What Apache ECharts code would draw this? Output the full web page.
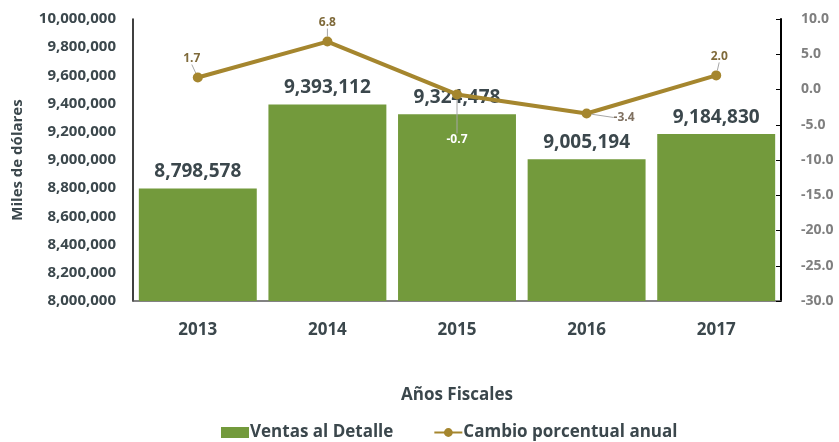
<!DOCTYPE html>
<html><head><meta charset="utf-8">
<script src="https://cdn.jsdelivr.net/npm/echarts@6/dist/echarts.min.js"></script>
<style>html,body{margin:0;padding:0;background:#fff}#c{width:839px;height:442px}</style>
</head><body><div id="c"></div>
<script>
const categories = ['2013','2014','2015','2016','2017'];
const ventas = [8798578, 9393112, 9324478, 9005194, 9184830];
const cambio = [1.7, 6.8, -0.7, -3.4, 2.0];
const leftTicks = {min: 8000000, max: 10000000, interval: 200000};
const rightTicks = {min: -30, max: 10, interval: 5};

const FONT = 'Open Sans';
const textDark = '#3b474c';
const lineColor = '#a5862e';
const barColor = '#739a3c';
const labelMoves = [
  {dx: -6, dy: 0}, {dx: 0, dy: 0}, {dx: 0, dy: 0}, {dx: 0, dy: 4}, {dx: 3, dy: 0}
];
const labelPos = ['top','top','bottom','right','top'];
const labelDist = [8, 8, 34, 22, 8];
const labelColors = ['#7f6a3a','#7f6a3a','#ffffff','#7f7060','#7f6a3a'];

const chart = echarts.init(document.getElementById('c'));
chart.setOption({
  animation: false,
  textStyle: {fontFamily: FONT},
  grid: {left: 133, right: 58, top: 19, bottom: 141},
  legend: {
    bottom: -4, left: 216, itemGap: 40, itemWidth: 28, itemHeight: 11,
    textStyle: {fontFamily: FONT, fontWeight: 'bold', fontSize: 17, color: textDark, padding: [0,0,0,-4]},
    data: [{name: 'Ventas al Detalle', icon: 'rect'}, {name: 'Cambio porcentual anual'}]
  },
  xAxis: {
    type: 'category', data: categories,
    axisLine: {onZero: false, lineStyle: {color: '#595959', width: 1.5}},
    axisTick: {show: false},
    axisLabel: {fontFamily: FONT, fontWeight: 'bold', fontSize: 17, color: textDark, margin: 21},
    name: 'Años Fiscales', nameLocation: 'middle', nameGap: 86,
    nameTextStyle: {fontFamily: FONT, fontWeight: 'bold', fontSize: 17, color: textDark}
  },
  yAxis: [{
    type: 'value', min: leftTicks.min, max: leftTicks.max, interval: leftTicks.interval,
    splitLine: {show: false},
    axisLine: {show: true, lineStyle: {color: '#000', width: 1.5}},
    axisTick: {show: false},
    axisLabel: {fontFamily: FONT, fontWeight: 'bold', fontSize: 15, color: textDark, margin: 17,
      formatter: v => v.toLocaleString('en-US')},
    name: 'Miles de dólares', nameLocation: 'middle', nameGap: 108, nameRotate: 90,
    nameTextStyle: {fontFamily: FONT, fontWeight: 'bold', fontSize: 15, color: textDark}
  }, {
    type: 'value', min: rightTicks.min, max: rightTicks.max, interval: rightTicks.interval,
    position: 'right',
    splitLine: {show: false},
    axisLine: {show: true, lineStyle: {color: '#000', width: 2}},
    axisTick: {show: true, inside: true, length: 5, lineStyle: {color: '#000', width: 1}},
    axisLabel: {fontFamily: FONT, fontWeight: 'bold', fontSize: 14, color: '#7f7f7f', margin: 20,
      formatter: v => v.toFixed(1)}
  }],
  series: [{
    name: 'Ventas al Detalle', type: 'bar', data: ventas, yAxisIndex: 0,
    barCategoryGap: '9%',
    itemStyle: {color: barColor},
    label: {show: true, position: 'top', distance: 7, fontFamily: FONT, fontWeight: 'bold', fontSize: 19, color: textDark,
      formatter: p => p.value.toLocaleString('en-US')}
  }, {
    name: 'Cambio porcentual anual', type: 'line', yAxisIndex: 1,
    data: cambio.map((v, i) => ({
      value: v,
      label: {position: labelPos[i], distance: labelDist[i], color: labelColors[i]}
    })),
    symbol: 'circle', symbolSize: 10,
    lineStyle: {color: lineColor, width: 4},
    itemStyle: {color: lineColor},
    label: {show: true, fontFamily: FONT, fontWeight: 'bold', fontSize: 12,
      formatter: p => p.value.toFixed(1)},
    labelLine: {show: true, lineStyle: {color: '#a6a6a6', width: 1}},
    labelLayout: p => labelMoves[p.dataIndex]
  }]
});
</script></body></html>
